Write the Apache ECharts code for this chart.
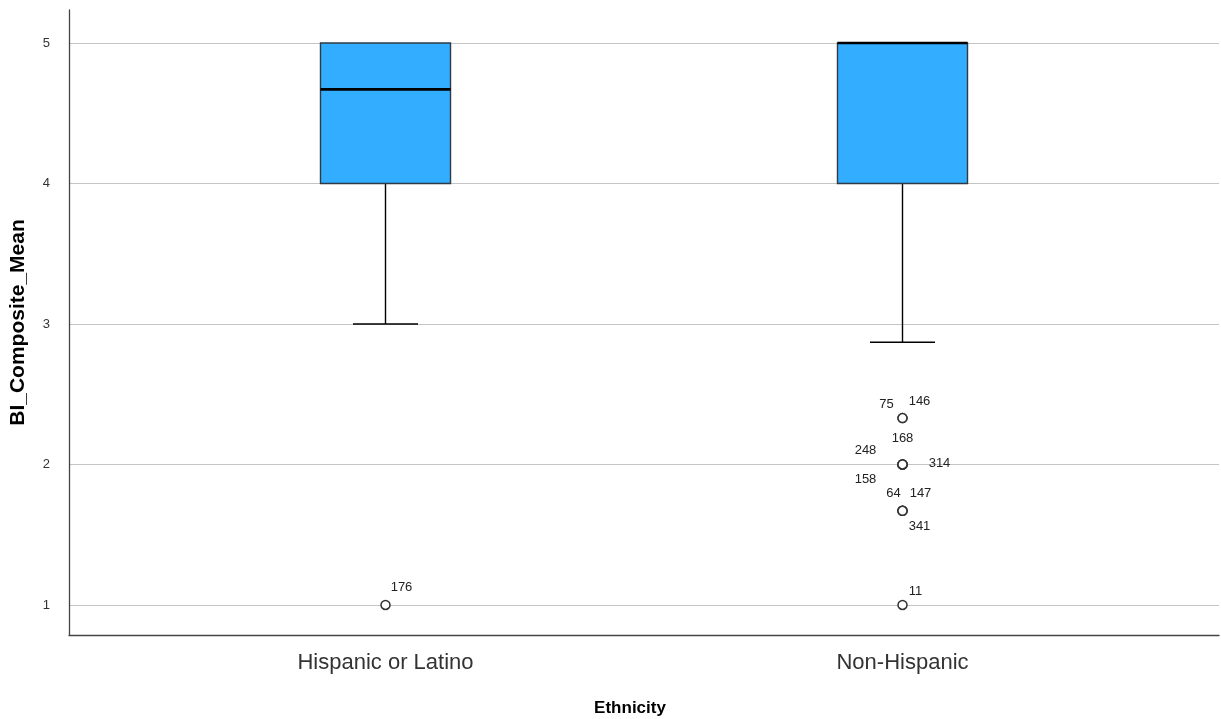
<!DOCTYPE html>
<html><head><meta charset="utf-8">
<script src="https://cdn.jsdelivr.net/npm/echarts@6/dist/echarts.min.js"></script>
<style>html,body{margin:0;padding:0;background:#fff}#c{width:1221px;height:719px}</style>
</head><body><div id="c"></div>
<script>
// ---- data ----
const categories = ['Hispanic or Latino', 'Non-Hispanic'];
const whiskerLow = [3, 2.87];
const q1 = [4, 4];
const median = [4.67, 5];
const q3 = [5, 5];
const whiskerHigh = [5, 5];
const outlierCategory = [0, 1, 1, 1, 1, 1, 1, 1, 1, 1, 1];
const outlierValue = [1, 2.33, 2.33, 2, 2, 2, 2, 1.67, 1.67, 1.67, 1];
const outlierId = ['176', '75', '146', '168', '248', '314', '158', '64', '147', '341', '11'];
const yTicks = [1, 2, 3, 4, 5];
const yMin = 0.786, yMax = 5.235;

// ---- style (label offsets in px) ----
const labelOffsets = [[16,-18],[-16,-14],[17,-17],[0,-26],[-37,-14],[37,-1],[-37,15],[-9,-17],[18,-17],[17,16],[13,-14]];

const boxData = categories.map((c, i) => [i, whiskerLow[i], q1[i], median[i], q3[i], whiskerHigh[i]]);
const outlierData = outlierValue.map((v, i) => ({
  value: [outlierCategory[i], v],
  label: { formatter: outlierId[i], offset: labelOffsets[i] }
}));

function renderBox(params, api) {
  const x = api.value(0);
  const lo = api.coord([x, api.value(1)]);
  const b1 = api.coord([x, api.value(2)]);
  const md = api.coord([x, api.value(3)]);
  const b3 = api.coord([x, api.value(4)]);
  const hi = api.coord([x, api.value(5)]);
  const band = api.size([1, 0])[0];
  const w = band * 0.2515;
  const cw = w / 2;
  const cx = lo[0];
  const children = [];
  const lineStyle = { stroke: '#000', lineWidth: 1.4 };
  if (Math.abs(lo[1] - b1[1]) > 0.5) {
    children.push({ type: 'line', shape: { x1: cx, y1: b1[1], x2: cx, y2: lo[1] }, style: lineStyle });
    children.push({ type: 'line', shape: { x1: cx - cw / 2, y1: lo[1], x2: cx + cw / 2, y2: lo[1] }, style: lineStyle });
  }
  if (Math.abs(hi[1] - b3[1]) > 0.5) {
    children.push({ type: 'line', shape: { x1: cx, y1: b3[1], x2: cx, y2: hi[1] }, style: lineStyle });
    children.push({ type: 'line', shape: { x1: cx - cw / 2, y1: hi[1], x2: cx + cw / 2, y2: hi[1] }, style: lineStyle });
  }
  children.push({ type: 'rect', shape: { x: cx - w / 2, y: b3[1], width: w, height: b1[1] - b3[1] },
    style: { fill: '#33adff', stroke: '#2f3a44', lineWidth: 1.4 } });
  children.push({ type: 'line', shape: { x1: cx - w / 2, y1: md[1], x2: cx + w / 2, y2: md[1] },
    style: { stroke: '#000', lineWidth: 2.6 } });
  return { type: 'group', children };
}

const chart = echarts.init(document.getElementById('c'), null, { renderer: 'canvas' });
chart.setOption({
  animation: false,
  backgroundColor: '#fff',
  textStyle: { fontFamily: 'Liberation Sans, Arial, sans-serif' },
  grid: [
    { left: 69, right: 2, top: 10, bottom: 84, containLabel: false, outerBoundsMode: 'none' },
    { left: 127, right: 60, top: 10, bottom: 84, containLabel: false, outerBoundsMode: 'none' }
  ],
  xAxis: [
    { type: 'value', gridIndex: 0, min: 0, max: 1,
      axisLine: { show: true, onZero: false, lineStyle: { color: '#444', width: 1.3 } },
      axisTick: { show: false }, axisLabel: { show: false }, splitLine: { show: false } },
    { type: 'category', gridIndex: 1, data: categories, boundaryGap: true,
      axisLine: { show: false }, axisTick: { show: false }, splitLine: { show: false },
      axisLabel: { color: '#333', fontSize: 22, margin: 17, fontFamily: 'Liberation Sans, Arial, sans-serif' },
      name: 'Ethnicity', nameLocation: 'middle', nameGap: 65,
      nameTextStyle: { color: '#000', fontSize: 17, fontWeight: 'bold', padding: [0, 28, 0, 0],
        fontFamily: 'Liberation Sans, Arial, sans-serif' } }
  ],
  yAxis: [
    { type: 'value', gridIndex: 0, min: yMin, max: yMax,
      axisLine: { show: true, onZero: false, lineStyle: { color: '#444', width: 1.3 } },
      axisTick: { show: false, customValues: yTicks },
      axisLabel: { customValues: yTicks, color: '#333', fontSize: 13, margin: 19 },
      splitLine: { show: true, lineStyle: { color: '#c4c4c4', width: 1.2 } },
      name: 'BI_Composite_Mean', nameLocation: 'middle', nameGap: 40,
      nameTextStyle: { color: '#000', fontSize: 21, fontWeight: 'bold', fontFamily: 'Liberation Sans, Arial, sans-serif' } },
    { type: 'value', gridIndex: 1, min: yMin, max: yMax,
      axisLine: { show: false }, axisTick: { show: false }, axisLabel: { show: false }, splitLine: { show: false } }
  ],
  series: [
    { type: 'custom', xAxisIndex: 1, yAxisIndex: 1, data: boxData, renderItem: renderBox,
      encode: { x: 0, y: [1, 2, 3, 4, 5] }, z: 3 },
    { type: 'scatter', xAxisIndex: 1, yAxisIndex: 1, data: outlierData, z: 4,
      symbol: 'circle', symbolSize: 9,
      itemStyle: { color: '#fff', borderColor: '#333', borderWidth: 1.5, opacity: 1 },
      label: { show: true, position: 'inside', color: '#222', fontSize: 13,
        fontFamily: 'Liberation Sans, Arial, sans-serif', align: 'center', verticalAlign: 'middle' } }
  ]
});
</script>
</body></html>
